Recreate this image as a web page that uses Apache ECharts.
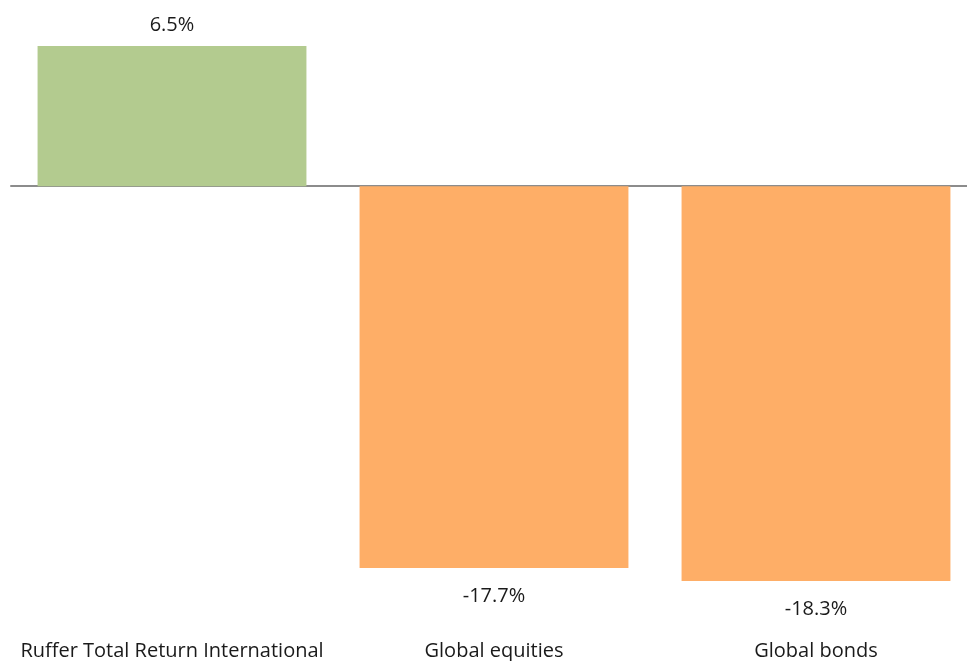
<!DOCTYPE html>
<html><head><meta charset="utf-8">
<script src="https://cdn.jsdelivr.net/npm/echarts@6/dist/echarts.min.js"></script>
<style>html,body{margin:0;padding:0;background:#fff}#c{width:967px;height:661px}</style>
</head><body><div id="c"></div>
<script>
const categories = ["Ruffer Total Return International", "Global equities", "Global bonds"];
const returns = [6.5, -17.7, -18.3];
const colors = ["#B3CB8F", "#FEAE67", "#FEAE67"];

const chart = echarts.init(document.getElementById('c'), null, {renderer: 'canvas'});
const font = '"Open Sans", "Noto Sans", sans-serif';
chart.setOption({
  animation: false,
  grid: {left: 11, right: -10, top: 46, bottom: 80, containLabel: false, outerBoundsMode: 'none'},
  xAxis: [{
    type: 'category', data: categories, position: 'bottom',
    axisLine: {show: false, onZero: false}, axisTick: {show: false},
    axisLabel: {interval: 0, margin: 60, fontSize: 20, color: '#1a1a1a', fontFamily: font, hideOverlap: false}
  }, {
    type: 'category', data: categories, position: 'top',
    axisLine: {show: true, onZero: true, lineStyle: {color: '#8c8c8c', width: 2}},
    axisTick: {show: false}, axisLabel: {show: false}
  }],
  yAxis: {type: 'value', min: -18.3, max: 6.5, show: false, splitLine: {show: false}},
  series: [{
    type: 'bar', xAxisIndex: 0, barCategoryGap: '16.5%',
    data: returns.map((v, i) => ({
      value: v, itemStyle: {color: colors[i]},
      label: {position: v < 0 ? 'bottom' : 'top', distance: v < 0 ? 18 : 11}
    })),
    label: {
      show: true, fontSize: 20, color: '#1a1a1a', fontFamily: font,
      formatter: p => p.value.toFixed(1) + '%'
    }
  }]
});
</script></body></html>
